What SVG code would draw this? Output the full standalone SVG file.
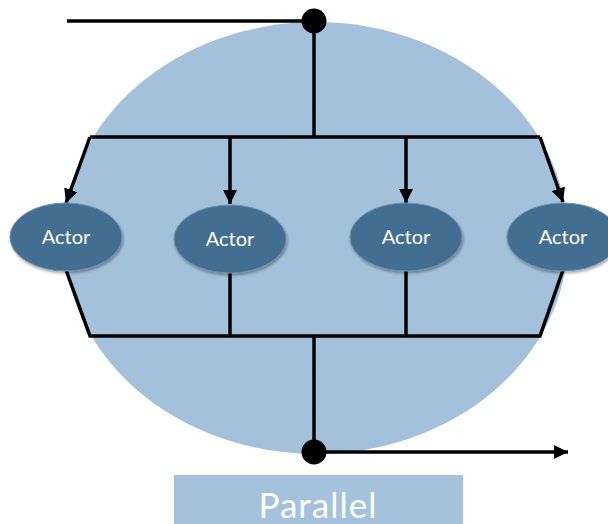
<svg xmlns="http://www.w3.org/2000/svg" width="608" height="524" viewBox="0 0 608 524">
  <style>
    .wire { fill: none; stroke: #000; stroke-width: 3.5; stroke-linejoin: miter; }
    .actor ellipse { fill: #436e91; stroke: #6c8fab; stroke-width: 1; filter: url(#shadow); }
    .actor text { fill: #ffffff; font-family: Lato, "Open Sans", "DejaVu Sans", sans-serif; font-size: 20px; text-anchor: middle; }
    .label text { fill: #ffffff; font-family: Lato, "Open Sans", "DejaVu Sans", sans-serif; font-size: 35px; text-anchor: middle; letter-spacing: 1px; }
  </style>
  <defs>
    <marker id="head" viewBox="0 0 10 10" refX="10" refY="5" markerWidth="4" markerHeight="4" orient="auto" markerUnits="strokeWidth">
      <path d="M0,0 L10,5 L0,10 Z" fill="#000"/>
    </marker>
    <filter id="shadow" x="-20%" y="-20%" width="140%" height="150%">
      <feGaussianBlur in="SourceAlpha" stdDeviation="1.5"/>
      <feOffset dx="1" dy="2" result="off"/>
      <feComponentTransfer><feFuncA type="linear" slope="0.35"/></feComponentTransfer>
      <feMerge><feMergeNode/><feMergeNode in="SourceGraphic"/></feMerge>
    </filter>
  </defs>

  <!-- parallel region backdrop -->
  <g id="region">
    <ellipse cx="316" cy="238" rx="252" ry="216" fill="#a3c1da"/>
  </g>

  <!-- fork / join wiring -->
  <g id="connectors">
    <line class="wire" x1="67" y1="21" x2="314" y2="21" stroke-width="4"/>
    <line class="wire" x1="314" y1="21" x2="314" y2="137"/>
    <polyline class="wire" points="90,137 540,137"/>
    <line class="wire" x1="90" y1="137" x2="66" y2="203" marker-end="url(#head)"/>
    <line class="wire" x1="230" y1="137" x2="230" y2="204" marker-end="url(#head)"/>
    <line class="wire" x1="406" y1="137" x2="406" y2="203" marker-end="url(#head)"/>
    <line class="wire" x1="540" y1="137" x2="563" y2="202" marker-end="url(#head)"/>

    <polyline class="wire" points="66,270 90,336 540,336 563,270"/>
    <line class="wire" x1="230" y1="272" x2="230" y2="336"/>
    <line class="wire" x1="406" y1="271" x2="406" y2="336"/>
    <line class="wire" x1="314" y1="336" x2="314" y2="452"/>
    <line class="wire" x1="314" y1="452" x2="568" y2="452" stroke-width="4" marker-end="url(#head)"/>

    <circle cx="314" cy="21" r="12.5" fill="#000"/>
    <circle cx="314" cy="452" r="12.5" fill="#000"/>
  </g>

  <g id="actor1" class="actor">
    <ellipse cx="66" cy="237" rx="56" ry="34"/>
    <text x="66" y="244">Actor</text>
  </g>
  <g id="actor2" class="actor">
    <ellipse cx="230" cy="239" rx="56" ry="34"/>
    <text x="230" y="246">Actor</text>
  </g>
  <g id="actor3" class="actor">
    <ellipse cx="406" cy="237" rx="56" ry="34"/>
    <text x="406" y="244">Actor</text>
  </g>
  <g id="actor4" class="actor">
    <ellipse cx="563" cy="237" rx="56" ry="34"/>
    <text x="563" y="244">Actor</text>
  </g>

  <g id="label" class="label">
    <rect x="174" y="475" width="289" height="55" fill="#a4c2dc"/>
    <text x="318" y="518">Parallel</text>
  </g>
</svg>
